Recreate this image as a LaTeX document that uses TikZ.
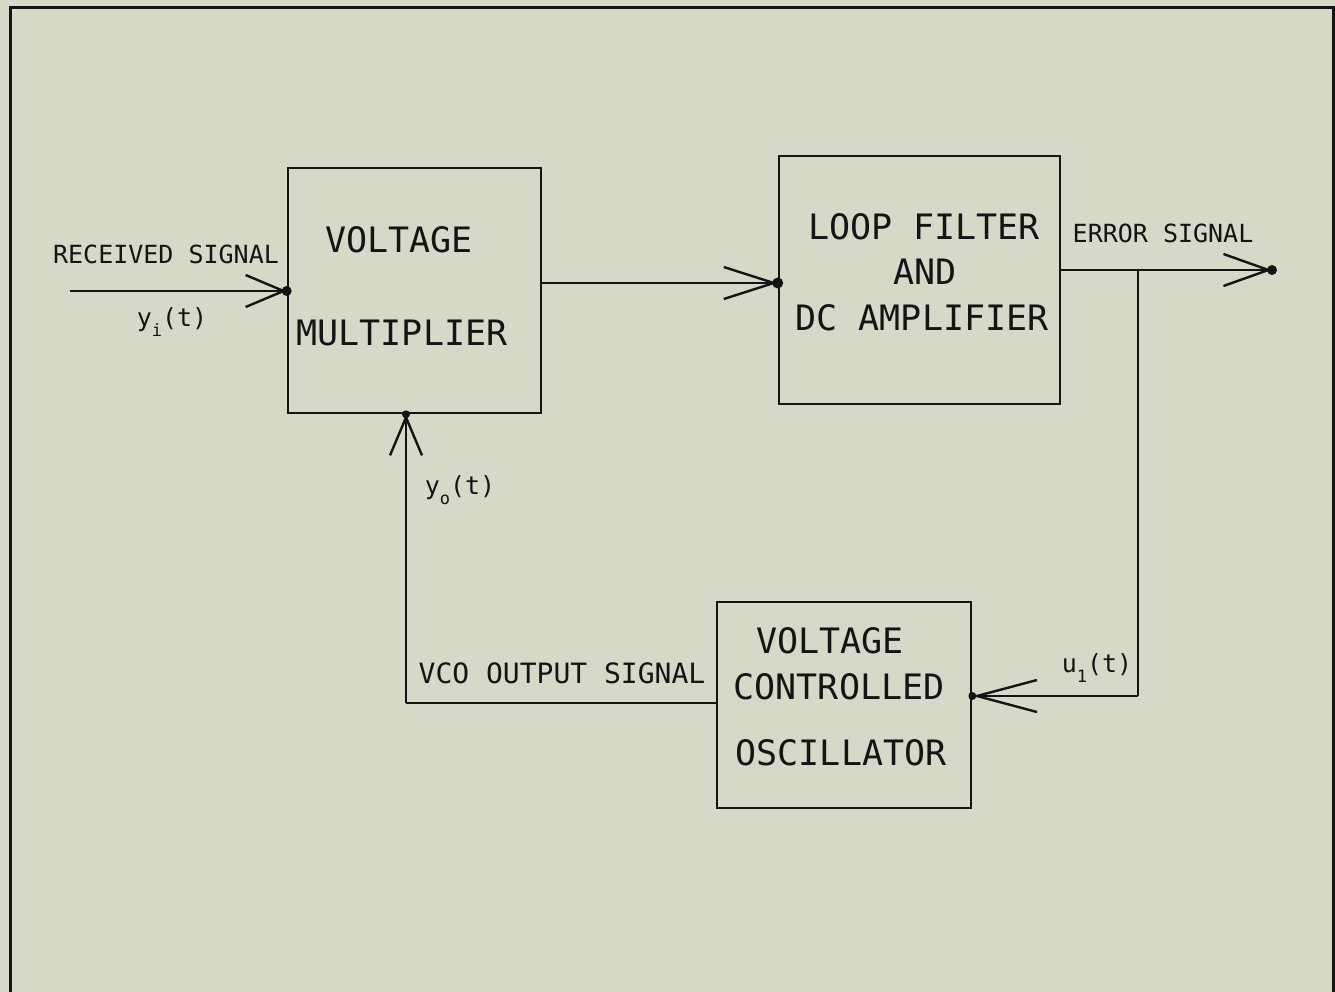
\documentclass[tikz,border=0pt]{standalone}
\usepackage{fontspec}
\newfontfamily\plotfont{DejaVu Sans Mono}
\usetikzlibrary{arrows.meta,calc}
\definecolor{paper}{RGB}{216,216,200}
\definecolor{ink}{RGB}{20,20,20}
\tikzset{
  blk/.style={draw=ink,line width=2.6pt,minimum width=#1,inner sep=0pt},
  big/.style={font=\plotfont\fontsize{35}{40}\selectfont,text=ink,inner sep=0pt},
  mid/.style={font=\plotfont\fontsize{28}{32}\selectfont,text=ink,inner sep=0pt},
  small/.style={font=\plotfont\fontsize{25}{30}\selectfont,text=ink,inner sep=0pt},
  wire/.style={draw=ink,line width=2.6pt},
  barb/.style={-{Straight Barb[length=#1,width=32pt,line width=2.4pt]}},
  barb/.default=40pt,
  tipdot/.style={fill=ink}
}
\newcommand{\sig}[2]{y\raisebox{-0.75ex}{\fontsize{17}{17}\selectfont #1}(t)}
\begin{document}
\begin{tikzpicture}[x=1pt,y=-1pt]
\useasboundingbox (0,0) rectangle (1335,992);
\fill[paper] (0,0) rectangle (1335,992);
% frame
\draw[ink,line width=3pt] (10,1000) -- (10,8) -- (1333,8) -- (1333,1000);

% blocks
\node[blk=253pt,minimum height=245pt] (mult) at (414.5,290.5) {};
\node[blk=281pt,minimum height=248pt] (filt) at (919.5,280) {};
\node[blk=254pt,minimum height=206pt] (vco) at (844,705) {};

% block texts
\node[big] (m1) at (399,240) {VOLTAGE};
\node[big] (m2) at (402,333) {MULTIPLIER};
\node[big] (f1) at (924,227) {LOOP FILTER};
\node[big] (f2) at (925,272) {AND};
\node[big] (f3) at (922,318) {DC AMPLIFIER};
\node[big] (v1) at (830,641) {VOLTAGE};
\node[big] (v2) at (839,687) {CONTROLLED};
\node[big] (v3) at (841,753) {OSCILLATOR};

% signal labels
\node[small] (lrx) at (166,254) {RECEIVED SIGNAL};
\node[small] (lerr) at (1163,233) {ERROR SIGNAL};
\node[mid] (lvco) at (562,673) {VCO OUTPUT SIGNAL};
\node[small] (lyi) at (172,322) {\sig{i}{}};
\node[small] (lyo) at (460,490) {\sig{o}{}};
\node[small] (lu1) at (1097,668) {u\raisebox{-0.75ex}{\fontsize{17}{17}\selectfont 1}(t)};

% coordinates
\coordinate (in) at (70,291);
\coordinate (mo) at (541,283);
\coordinate (out) at (1272,270);
\coordinate (jn) at (1138,270);
\coordinate (fb) at (1138,696);
\coordinate (vl) at (406,703);

% connectors
\draw[wire,barb=38pt] (in) -- (in -| mult.west);
\fill[tipdot] (in -| mult.west) circle (5);
\draw[wire,barb=50pt] (mo) -- (mo -| filt.west);
\fill[tipdot] (mo -| filt.west) circle (5.5);
\draw[wire,barb=45pt] (out -| filt.east) -- (out);
\fill[tipdot] (out) circle (5);
\draw[wire] (jn) -- (fb);
\draw[wire,barb=60pt] (fb) -- (fb -| vco.east);
\fill[tipdot] (fb -| vco.east) circle (4);
\draw[wire] (vco.west |- vl) -- (vl);
\draw[wire,barb=38pt] (vl) -- (vl |- mult.south);
\fill[tipdot] (vl |- mult.south) circle (4);
\end{tikzpicture}
\end{document}
